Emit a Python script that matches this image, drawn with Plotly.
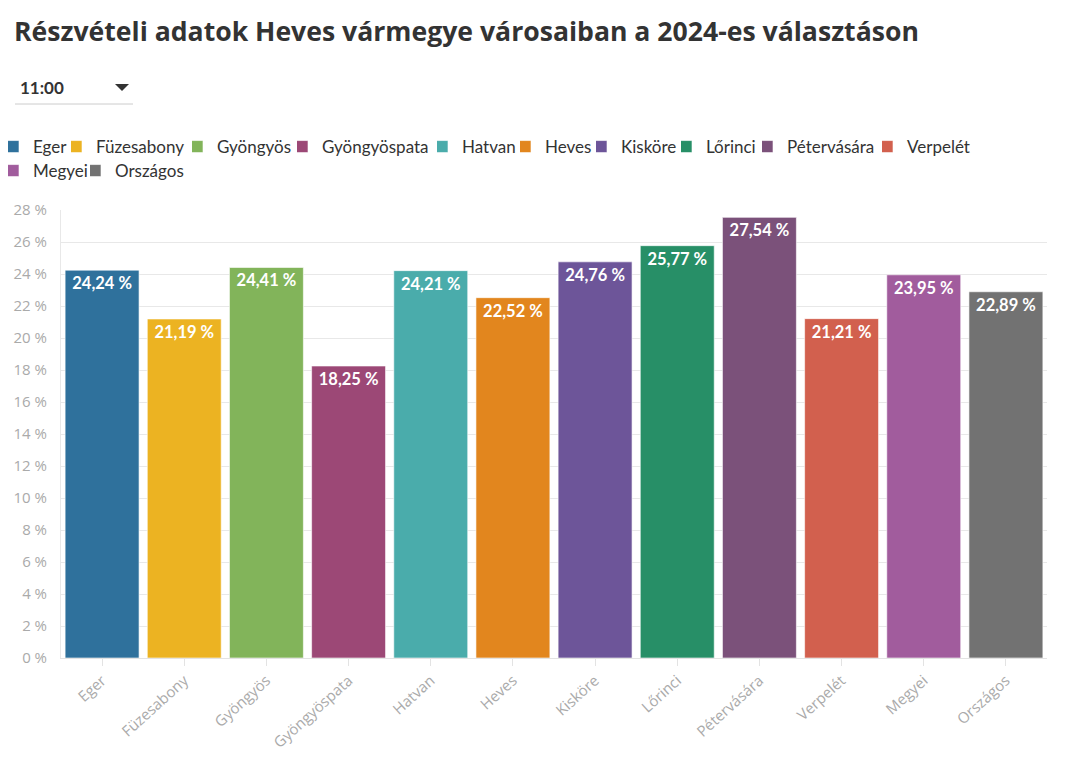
import plotly.graph_objects as go

categories = ["Eger", "Füzesabony", "Gyöngyös", "Gyöngyöspata", "Hatvan", "Heves",
              "Kisköre", "Lőrinci", "Pétervására", "Verpelét", "Megyei", "Országos"]
values = [24.24, 21.19, 24.41, 18.25, 24.21, 22.52, 24.76, 25.77, 27.54, 21.21, 23.95, 22.89]
colors = ["#2f719c", "#ecb322", "#82b45a", "#9c4876", "#4aacab", "#e2861e",
          "#6d5599", "#278f67", "#7b517a", "#d2604e", "#a15c9d", "#727272"]
y_ticks = list(range(0, 29, 2))
y_tick_labels = [f"{v} %" for v in y_ticks]
time_label = "11:00"

# legend layout (screen px of each entry's text start, and row)
legend_text_x = [32, 96, 217, 322, 462, 545, 621, 706, 787, 907, 32, 115]
legend_row = [0, 0, 0, 0, 0, 0, 0, 0, 0, 0, 1, 1]

FONT = "Lato, 'Open Sans', sans-serif"
TICKFONT = "'Open Sans', sans-serif"
W, H = 1075, 775
ML, MR, MT, MB = 53, 36, 202, 125
PW, PH = W - ML - MR, H - MT - MB
OFF = 8  # page body offset
INDENT = -15
TEXT_OFFSET = 40 + INDENT


def px_x(s):  # screen px -> paper x
    return (s - OFF - ML) / PW


def px_y(s):  # screen px -> paper y
    return (H - MB - (s - OFF)) / PH


fig = go.Figure()
layout_legends = {}
for i, (cat, val, col) in enumerate(zip(categories, values, colors)):
    lid = "legend" if i == 0 else f"legend{i + 1}"
    fig.add_trace(go.Bar(
        x=[cat], y=[val], name=cat, legend=lid,
        marker=dict(color=col, line=dict(color="rgba(255,255,255,0.6)", width=1)),
        texttemplate="<b>%{y:.2f} %</b>",
        textposition="inside", insidetextanchor="end",
        textfont=dict(color="white", size=16.5, family=FONT),
        hovertemplate="%{x}: %{y:.2f} %<extra></extra>",
    ))
    layout_legends[lid] = dict(
        orientation="h", xref="paper", yref="container",
        x=px_x(legend_text_x[i] - TEXT_OFFSET), xanchor="left",
        y=1 - (121 + 24 * legend_row[i]) / H, yanchor="top",
        font=dict(size=17, color="#333333", family=FONT),
        indentation=INDENT, itemwidth=30, bgcolor="rgba(0,0,0,0)")

fig.update_layout(
    width=W, height=H,
    separators=", ",
    barmode="relative", bargap=0.1,
    plot_bgcolor="white", paper_bgcolor="white",
    font=dict(family=FONT, color="#333333"),
    margin=dict(l=ML, r=MR, t=MT, b=MB),
    title=dict(text="<b>Részvételi adatok Heves vármegye városaiban a 2024-es választáson</b>",
               x=6 / W, xref="container", xanchor="left",
               y=1 - 24 / H, yref="container", yanchor="middle",
               font=dict(size=26.6, color="#333333", family="'Open Sans', sans-serif")),
    showlegend=True,
    xaxis=dict(categoryorder="array", categoryarray=categories, automargin=False,
               tickangle=-42, tickfont=dict(size=15, color="#aaaaaa", family=TICKFONT),
               showline=True, linecolor="#e3e3e3", ticks="outside", ticklen=7, tickcolor="#e3e3e3",
               showgrid=False),
    yaxis=dict(range=[0, 28], tickmode="array", tickvals=y_ticks, ticktext=y_tick_labels,
               automargin=False,
               tickfont=dict(size=15, color="#aaaaaa", family=TICKFONT),
               showgrid=True, gridcolor="#e8e8e8", zeroline=False,
               showline=True, linecolor="#e8e8e8", ticks="outside", ticklen=10, tickcolor="rgba(0,0,0,0)"),
    annotations=[dict(text=f"<b>{time_label}</b>", xref="paper", yref="paper",
                      x=px_x(18), y=px_y(87), xanchor="left", yanchor="middle",
                      showarrow=False, font=dict(size=17, color="#333333", family=FONT))],
    shapes=[
        dict(type="line", xref="paper", yref="paper",
             x0=px_x(15), x1=px_x(133), y0=px_y(104), y1=px_y(104),
             line=dict(color="#cccccc", width=1)),
        dict(type="path", xref="paper", yref="paper",
             path=f"M{px_x(115)},{px_y(84)} L{px_x(129)},{px_y(84)} L{px_x(122)},{px_y(91)} Z",
             fillcolor="#333333", line=dict(width=0)),
    ],
    **layout_legends,
)

fig.write_html("out.html")
